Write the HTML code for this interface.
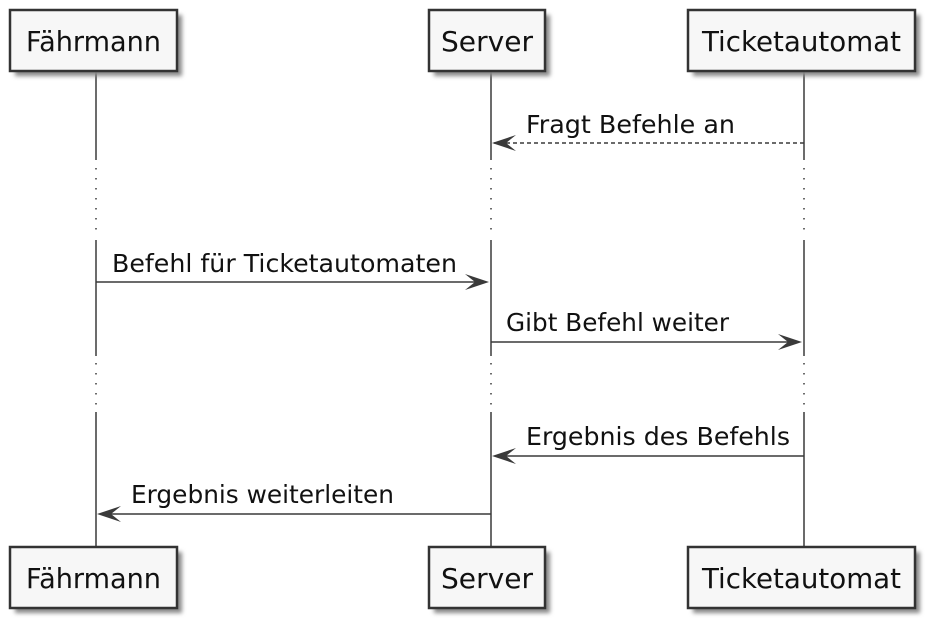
<!DOCTYPE html>
<html><head><meta charset="utf-8"><style>
html,body{margin:0;padding:0;background:#fff;}
svg{display:block;font-family:"DejaVu Sans","Liberation Sans",sans-serif;}
</style></head><body>
<svg width="940" height="634" viewBox="0 0 940 634" xmlns="http://www.w3.org/2000/svg">
<defs>
<filter id="sh" x="-10%" y="-10%" width="130%" height="140%"><feGaussianBlur stdDeviation="2"/></filter>
</defs>
<g stroke="#3a3a3a" stroke-width="1.5">
<line x1="96" y1="71" x2="96" y2="160"/><line x1="96" y1="240" x2="96" y2="356"/><line x1="96" y1="412" x2="96" y2="547"/>
<line x1="491" y1="71" x2="491" y2="160"/><line x1="491" y1="240" x2="491" y2="356"/><line x1="491" y1="412" x2="491" y2="547"/>
<line x1="804" y1="71" x2="804" y2="160"/><line x1="804" y1="240" x2="804" y2="356"/><line x1="804" y1="412" x2="804" y2="547"/>
</g>
<g stroke="#3a3a3a" stroke-width="1.5" stroke-dasharray="1.5,8.5">
<line x1="96" y1="168" x2="96" y2="236"/><line x1="491" y1="168" x2="491" y2="236"/><line x1="804" y1="168" x2="804" y2="236"/>
<line x1="96" y1="363" x2="96" y2="410"/><line x1="491" y1="363" x2="491" y2="410"/><line x1="804" y1="363" x2="804" y2="410"/>
</g>
<g>
<rect x="15" y="15" width="167" height="61" fill="#888" filter="url(#sh)"/>
<rect x="10" y="10" width="167" height="61" fill="#f7f7f7" stroke="#333" stroke-width="2.5"/>
<rect x="434" y="15" width="116" height="61" fill="#888" filter="url(#sh)"/>
<rect x="429" y="10" width="116" height="61" fill="#f7f7f7" stroke="#333" stroke-width="2.5"/>
<rect x="693" y="15" width="227" height="61" fill="#888" filter="url(#sh)"/>
<rect x="688" y="10" width="227" height="61" fill="#f7f7f7" stroke="#333" stroke-width="2.5"/>
<rect x="15" y="552" width="167" height="61" fill="#888" filter="url(#sh)"/>
<rect x="10" y="547" width="167" height="61" fill="#f7f7f7" stroke="#333" stroke-width="2.5"/>
<rect x="434" y="552" width="116" height="61" fill="#888" filter="url(#sh)"/>
<rect x="429" y="547" width="116" height="61" fill="#f7f7f7" stroke="#333" stroke-width="2.5"/>
<rect x="693" y="552" width="227" height="61" fill="#888" filter="url(#sh)"/>
<rect x="688" y="547" width="227" height="61" fill="#f7f7f7" stroke="#333" stroke-width="2.5"/>
</g>
<g font-size="27.5" fill="#111" text-anchor="middle">
<text x="93.5" y="51" textLength="135" lengthAdjust="spacingAndGlyphs">Fährmann</text>
<text x="487" y="51" textLength="92" lengthAdjust="spacingAndGlyphs">Server</text>
<text x="801.5" y="51" textLength="199" lengthAdjust="spacingAndGlyphs">Ticketautomat</text>
<text x="93.5" y="588" textLength="135" lengthAdjust="spacingAndGlyphs">Fährmann</text>
<text x="487" y="588" textLength="92" lengthAdjust="spacingAndGlyphs">Server</text>
<text x="801.5" y="588" textLength="199" lengthAdjust="spacingAndGlyphs">Ticketautomat</text>
</g>
<g stroke="#3a3a3a" stroke-width="1.5" fill="none">
<line x1="804" y1="143" x2="494" y2="143" stroke-dasharray="4,3"/>
<line x1="96" y1="282" x2="486" y2="282"/>
<line x1="491" y1="342" x2="799" y2="342"/>
<line x1="804" y1="456" x2="496" y2="456"/>
<line x1="491" y1="514" x2="101" y2="514"/>
</g>
<g fill="#3a3a3a">
<path d="M492,143 L516,135 L506,143 L516,151 Z"/>
<path d="M489,282 L465,274 L475,282 L465,290 Z"/>
<path d="M802,342 L778,334 L788,342 L778,350 Z"/>
<path d="M492,456 L516,448 L506,456 L516,464 Z"/>
<path d="M97,514 L121,506 L111,514 L121,522 Z"/>
</g>
<g font-size="25" fill="#111">
<text x="526" y="133" textLength="209" lengthAdjust="spacingAndGlyphs">Fragt Befehle an</text>
<text x="112" y="272" textLength="345" lengthAdjust="spacingAndGlyphs">Befehl für Ticketautomaten</text>
<text x="506" y="331" textLength="223" lengthAdjust="spacingAndGlyphs">Gibt Befehl weiter</text>
<text x="526" y="445" textLength="264" lengthAdjust="spacingAndGlyphs">Ergebnis des Befehls</text>
<text x="131" y="503" textLength="263" lengthAdjust="spacingAndGlyphs">Ergebnis weiterleiten</text>
</g>
</svg>
</body></html>
